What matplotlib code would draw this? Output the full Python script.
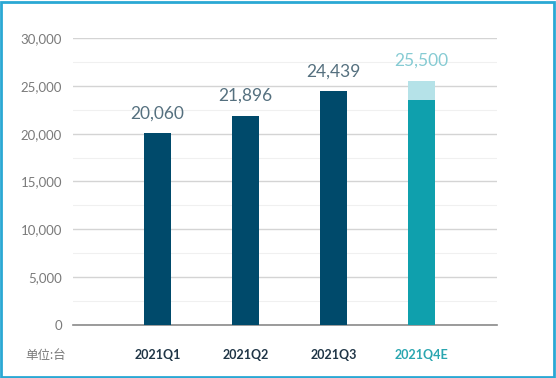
import matplotlib.pyplot as plt
import numpy as np
from matplotlib.ticker import FuncFormatter, MultipleLocator
from matplotlib.patches import Rectangle

plt.rcParams["font.family"] = ["Lato", "Noto Sans CJK SC", "DejaVu Sans"]

quarters = ["2021Q1", "2021Q2", "2021Q3", "2021Q4E"]
sales = [20060, 21896, 24439, 23500]
q4_extra = [0, 0, 0, 2000]
labels = ["20,060", "21,896", "24,439", "25,500"]
y_ticks = [0, 5000, 10000, 15000, 20000, 25000, 30000]

dark = "#004a6b"
teal = "#0fa0ad"
light_teal = "#b5e2e8"
bar_colors = [dark, dark, dark, teal]
label_colors = ["#55707f", "#55707f", "#55707f", "#86cbd3"]
tick_colors = ["#1f3546", "#1f3546", "#1f3546", "#2aa6b0"]

fig = plt.figure(figsize=(5.56, 3.78), dpi=100)
ax = fig.add_axes([73 / 556, 1 - 325 / 378, (497 - 73) / 556, (325 - 38) / 378])

x = np.arange(len(quarters))
ax.bar(x, sales, width=0.31, color=bar_colors, zorder=3)
ax.bar(x, q4_extra, bottom=sales, width=0.31, color=light_teal, zorder=3)

tops = [s + e for s, e in zip(sales, q4_extra)]
for xi, top, lab, c in zip(x, tops, labels, label_colors):
    ax.text(xi, top + 1250, lab, ha="center", va="bottom", fontsize=12.5,
            color=c)

ax.set_xlim(-0.96, 3.86)
ax.set_ylim(0, 30000)
ax.set_yticks(y_ticks)
ax.yaxis.set_minor_locator(MultipleLocator(2500))
ax.yaxis.set_major_formatter(FuncFormatter(lambda v, p: f"{int(v):,}"))
ax.grid(axis="y", which="major", color="#d4d4d4", linewidth=1, zorder=0)
ax.grid(axis="y", which="minor", color="#f0f0f0", linewidth=0.8, zorder=0)
ax.tick_params(axis="y", which="both", length=0, labelsize=9.5, labelcolor="#7a7a7a", pad=8)
ax.tick_params(axis="x", length=0, pad=17)
ax.set_xticks(x)
ax.set_xticklabels(quarters, fontsize=9, fontweight="bold")
for t, c in zip(ax.get_xticklabels(), tick_colors):
    t.set_color(c)

for side in ["top", "right", "left"]:
    ax.spines[side].set_visible(False)
ax.spines["bottom"].set_color("#8a8a8a")
ax.spines["bottom"].set_linewidth(1.2)

fig.text(46 / 556, 1 - 355 / 378, "单位:台", ha="center", va="center",
         fontsize=9, color="#7a7a7a")

fig.patches.append(Rectangle((0.002, 0.003), 0.994, 0.993, transform=fig.transFigure,
                             fill=False, edgecolor="#2aa8d4", linewidth=2))

fig.savefig("out.png", dpi=100)
